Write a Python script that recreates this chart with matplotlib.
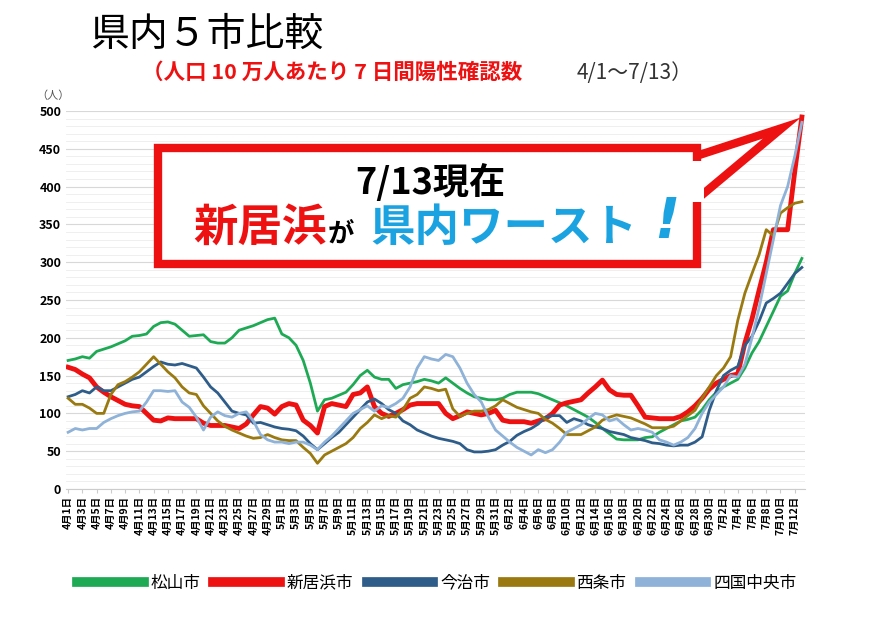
import matplotlib
matplotlib.use("Agg")
import matplotlib.pyplot as plt
from matplotlib.patches import Rectangle, Polygon
from matplotlib.lines import Line2D
import datetime as dt

plt.rcParams['font.family'] = ['Noto Sans CJK JP', 'DejaVu Sans']

start = dt.date(2021, 4, 1)
dates = [start + dt.timedelta(days=i) for i in range(104)]
labels = [f"{d.month}月{d.day}日" for d in dates]

matsuyama = [170,172,175,173,182,185,188,192,196,202,
             203,205,215,220,221,218,210,202,203,204,
             195,193,193,200,210,213,216,220,224,226,
             205,200,190,170,140,103,118,120,124,128,
             138,150,157,148,145,145,133,138,140,142,
             145,143,140,147,140,133,127,122,120,118,
             118,120,125,128,128,128,126,122,118,114,
             110,105,100,95,88,80,73,66,65,65,
             65,68,69,75,80,85,90,92,95,105,
             118,128,135,140,145,160,180,195,215,235,
             255,262,285,305]
niihama = [161,158,152,147,135,128,122,117,112,110,
           109,100,91,90,94,93,93,93,93,87,
           84,84,84,82,80,86,98,109,107,99,
           109,113,111,91,84,74,109,113,111,109,
           125,127,135,109,100,96,100,105,111,113,
           113,113,113,100,93,97,102,100,98,100,
           104,91,89,89,89,87,90,93,100,111,
           114,116,118,127,135,144,131,125,124,124,
           110,95,94,93,93,93,96,102,110,120,
           132,140,145,150,152,193,225,263,300,343,
           343,343,420,492]
imabari = [122,125,130,127,135,130,130,135,140,145,
           148,155,162,168,165,164,166,163,160,148,
           135,127,115,103,100,98,87,88,85,82,
           80,79,77,70,60,52,60,68,75,85,
           95,105,115,119,113,105,100,90,85,78,
           74,70,67,65,63,60,52,49,49,50,
           52,58,63,71,76,80,86,95,97,97,
           88,93,90,85,82,80,76,74,72,68,
           66,64,61,60,58,57,58,58,62,69,
           104,130,150,157,162,190,202,222,246,252,
           259,272,285,293]
saijo = [120,112,112,107,100,100,125,138,142,148,
         155,165,175,165,155,147,135,127,125,110,
         100,90,83,78,74,70,67,68,72,68,
         65,64,64,55,47,34,45,50,55,60,
         68,80,88,98,93,97,95,105,120,125,
         135,133,130,132,106,96,100,103,103,105,
         110,118,113,108,105,102,100,92,87,80,
         72,72,72,77,82,91,95,98,96,94,
         90,86,81,81,81,83,90,97,104,120,
         135,150,160,175,223,259,285,310,343,335,
         365,372,378,380]
shikoku = [75,80,78,80,80,88,93,97,100,102,
           103,115,130,130,129,130,115,108,95,78,
           95,102,97,95,100,102,90,72,65,62,
           62,60,62,62,58,52,62,70,80,90,
           100,105,110,103,110,108,113,120,135,160,
           175,172,170,178,175,160,140,125,115,95,
           78,70,62,55,50,45,52,48,52,62,
           75,80,85,93,100,98,90,93,85,78,
           80,78,75,65,62,58,62,68,80,100,
           115,125,135,150,148,165,200,240,285,330,
           375,400,440,485]

series = [("松山市", matsuyama, "#1eaa55", 2.0),
          ("新居浜市", niihama, "#ee1111", 3.5),
          ("今治市", imabari, "#2f5d8a", 2.0),
          ("西条市", saijo, "#9a7a10", 2.0),
          ("四国中央市", shikoku, "#8fb2d8", 2.0)]

fig = plt.figure(figsize=(8.73, 6.17), dpi=100)
ax = fig.add_axes([0.0756, 0.2075, 0.847, 0.6126])
x = list(range(104))
for name, vals, c, lw in series:
    ax.plot(x[:len(vals)], vals, color=c, lw=lw, solid_joinstyle='round')

ax.set_xlim(-0.3, 103.5)
ax.set_ylim(0, 500)
ax.set_yticks(range(0, 501, 50))
ax.set_yticks(range(0, 501, 10), minor=True)
ax.tick_params(axis='y', which='both', length=0, labelsize=9)
for t in ax.get_yticklabels():
    t.set_fontweight('bold')
ax.grid(axis='y', which='major', color='#d8d8d8', lw=0.8)
ax.grid(axis='y', which='minor', color='#ececec', lw=0.6)
ax.set_xticks(x[::2])
ax.set_xticklabels(labels[::2], rotation=90, fontsize=7.5, fontweight='bold')
ax.tick_params(axis='x', length=3, color='#cccccc', pad=2)
for s in ['top', 'right', 'left']:
    ax.spines[s].set_visible(False)
ax.spines['bottom'].set_color('#cccccc')
ax.set_axisbelow(True)

fig.text(0.041, 0.84, "（人）", fontsize=8, color='#555555')

# Titles
fig.text(0.103, 0.925, "県内５市比較", fontsize=28, color='black')
fig.text(0.163, 0.872, "（人口 10 万人あたり 7 日間陽性確認数", fontsize=15.5, color='#ee1111', fontweight='bold')
fig.text(0.66, 0.872, "4/1～7/13）", fontsize=15, color='#333333')

# Callout box
W, H = 873, 617
def fx(px): return px / W
def fy(py): return 1 - py / H
poly = Polygon([(fx(690), fy(158)), (fx(782), fy(128)), (fx(690), fy(205))],
               closed=True, transform=fig.transFigure, facecolor='white',
               edgecolor='#ee1111', lw=6, joinstyle='miter', zorder=5)
fig.add_artist(poly)
box = Rectangle((fx(158), fy(264)), fx(697) - fx(158), fy(148) - fy(264),
                transform=fig.transFigure, facecolor='white', edgecolor='#ee1111',
                lw=6, zorder=6)
fig.add_artist(box)
fig.add_artist(Rectangle((fx(690), fy(202)), fx(14), fy(161) - fy(202),
                         transform=fig.transFigure, facecolor='white', edgecolor='none', zorder=7))
fig.text(fx(430), fy(183), "7/13現在", fontsize=26, fontweight='bold',
         ha='center', va='center', zorder=8)
fig.text(fx(193), fy(228), "新居浜", fontsize=32, fontweight='bold', color='#ee1111',
         ha='left', va='center', zorder=8)
fig.text(fx(328), fy(234), "が", fontsize=19, fontweight='bold', color='black',
         ha='left', va='center', zorder=8)
fig.text(fx(370), fy(228), "県内ワースト", fontsize=32, fontweight='bold', color='#1aa3e0',
         ha='left', va='center', zorder=8)
fig.text(fx(667), fy(222), "!", fontsize=40, fontweight='bold', color='#1aa3e0',
         ha='center', va='center', zorder=8, family='DejaVu Sans', style='italic')

handles = [Line2D([0], [0], color=c, lw=7) for _, _, c, _ in series]
fig.legend(handles, [s[0] for s in series], loc='center', ncol=5,
           bbox_to_anchor=(0.5, 0.055), frameon=False, fontsize=12,
           handlelength=4, columnspacing=0.8, handletextpad=0.4)

fig.savefig("out.png", dpi=100)
